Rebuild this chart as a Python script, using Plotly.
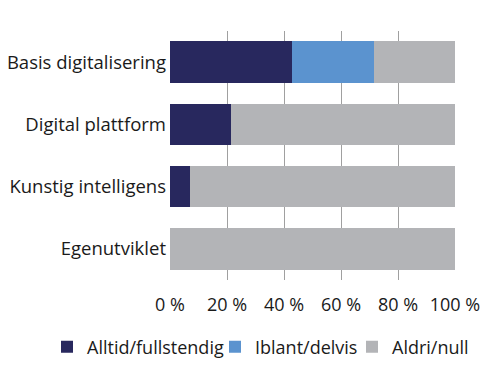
import plotly.graph_objects as go

categories = ["Basis digitalisering", "Digital plattform", "Kunstig intelligens", "Egenutviklet"]
alltid = [42.9, 21.3, 7.1, 0.0]
iblant = [28.6, 0.0, 0.0, 0.0]
aldri = [28.5, 78.7, 92.9, 100.0]
series_names = ["Alltid/fullstendig", "Iblant/delvis", "Aldri/null"]
tick_vals = [0, 20, 40, 60, 80, 100]
tick_text = ["0 %", "20 %", "40 %", "60 %", "80 %", "100 %"]

colors = ["#28285e", "#5b93cf", "#b3b4b7"]
legend_ids = ["legend", "legend2", "legend3"]
legend_x = [0.078, 0.414, 0.688]

fig = go.Figure()
for name, vals, col, lid in zip(series_names, [alltid, iblant, aldri], colors, legend_ids):
    fig.add_trace(go.Bar(
        y=categories, x=vals, name=name, orientation="h",
        marker=dict(color=col, line=dict(width=0)), legend=lid,
    ))

legend_common = dict(orientation="h", xref="container", yref="container", y=0.115,
                     xanchor="left", yanchor="middle", font=dict(size=18),
                     itemwidth=30, borderwidth=0, bgcolor="rgba(0,0,0,0)")

fig.update_layout(
    barmode="stack",
    bargap=0.33,
    width=500, height=383,
    margin=dict(l=162, r=53, t=23, b=111),
    paper_bgcolor="white", plot_bgcolor="white",
    font=dict(family="Open Sans", size=18.5, color="#1a1a1a"),
    showlegend=True,
    legend=dict(x=legend_x[0], **legend_common),
    legend2=dict(x=legend_x[1], **legend_common),
    legend3=dict(x=legend_x[2], **legend_common),
    xaxis=dict(range=[0, 100], tickvals=tick_vals, ticktext=tick_text,
               showgrid=True, gridcolor="#a0a0a0", gridwidth=1,
               zeroline=False, showline=False, ticks="", ticklabelstandoff=12,
               tickfont=dict(size=18),
               fixedrange=True, automargin=False),
    yaxis=dict(autorange="reversed", showgrid=False, showline=False, ticks="",
               ticklabelstandoff=3, fixedrange=True, automargin=False),
)

fig.write_html("out.html")
